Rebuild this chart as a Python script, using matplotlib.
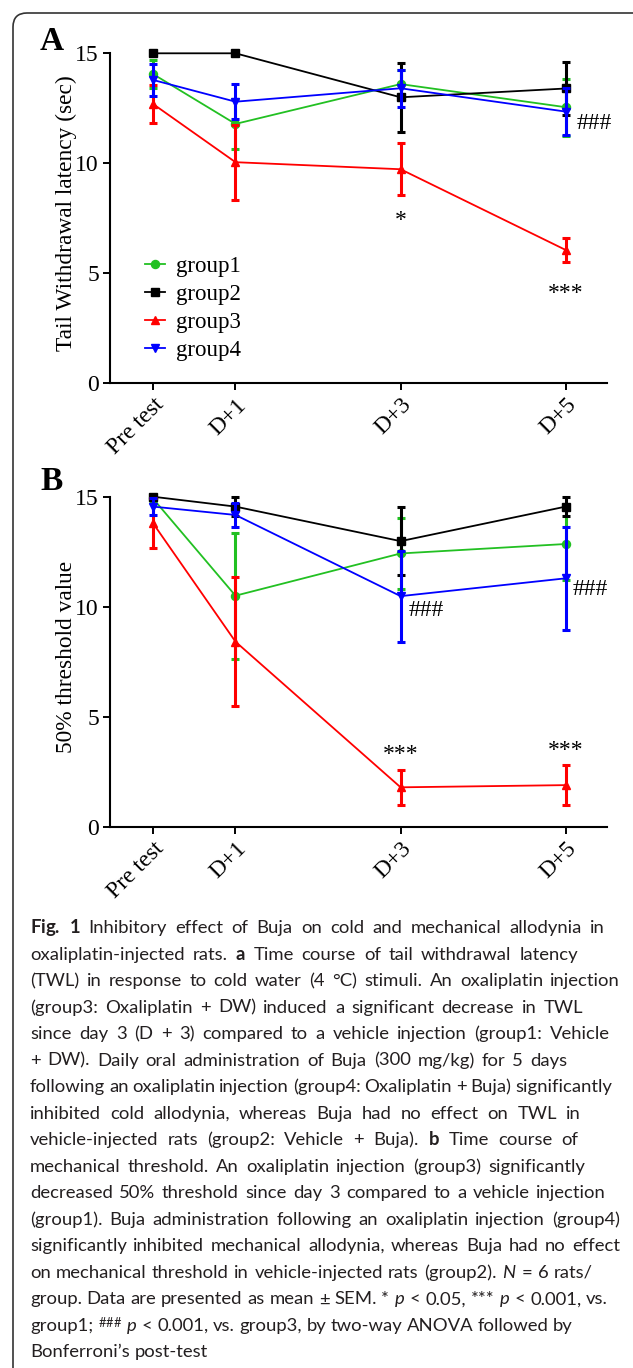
import matplotlib
matplotlib.use("Agg")
import matplotlib.pyplot as plt
from matplotlib.lines import Line2D
from matplotlib.patches import FancyBboxPatch
from matplotlib.transforms import IdentityTransform

# x positions are days after injection
days = [0, 1, 3, 5]
day_labels = ["Pre test", "D+1", "D+3", "D+5"]
groups = ["group1", "group2", "group3", "group4"]

# panel A: tail withdrawal latency (sec), mean and SEM per group
twl_mean = [
    [14.06, 11.79, 13.60, 12.55],
    [15.00, 15.00, 13.00, 13.40],
    [12.70, 10.05, 9.73, 6.06],
    [13.79, 12.80, 13.41, 12.35],
]
twl_sem = [
    [0.65, 1.15, 0.65, 1.30],
    [0.00, 0.00, 1.58, 1.20],
    [0.85, 1.70, 1.17, 0.53],
    [0.72, 0.80, 0.83, 1.05],
]

# panel B: 50% threshold value, mean and SEM per group
thr_mean = [
    [14.92, 10.50, 12.42, 12.85],
    [15.00, 14.55, 12.98, 14.55],
    [13.80, 8.41, 1.79, 1.89],
    [14.55, 14.17, 10.48, 11.29],
]
thr_sem = [
    [0.10, 2.86, 1.60, 1.65],
    [0.00, 0.42, 1.55, 0.42],
    [1.15, 2.93, 0.80, 0.90],
    [0.38, 0.55, 2.07, 2.33],
]

colors = ["#22c022", "black", "#ff0000", "#0000ff"]
markers = ["o", "s", "^", "v"]

caption_lines = [
    r"$\mathbf{Fig.}$ $\mathbf{1}$ Inhibitory effect of Buja on cold and mechanical allodynia in",
    r"oxaliplatin-injected rats. $\mathbf{a}$ Time course of tail withdrawal latency",
    "(TWL) in response to cold water (4 °C) stimuli. An oxaliplatin injection",
    "(group3: Oxaliplatin + DW) induced a significant decrease in TWL",
    "since day 3 (D + 3) compared to a vehicle injection (group1: Vehicle",
    "+ DW). Daily oral administration of Buja (300 mg/kg) for 5 days",
    "following an oxaliplatin injection (group4: Oxaliplatin + Buja) significantly",
    "inhibited cold allodynia, whereas Buja had no effect on TWL in",
    r"vehicle-injected rats (group2: Vehicle + Buja). $\mathbf{b}$ Time course of",
    "mechanical threshold. An oxaliplatin injection (group3) significantly",
    "decreased 50% threshold since day 3 compared to a vehicle injection",
    "(group1). Buja administration following an oxaliplatin injection (group4)",
    "significantly inhibited mechanical allodynia, whereas Buja had no effect",
    r"on mechanical threshold in vehicle-injected rats (group2). $\mathit{N}$ = 6 rats/",
    r"group. Data are presented as mean ± SEM. * $\mathit{p}$ < 0.05, *** $\mathit{p}$ < 0.001, vs.",
    r"group1; $^{\#\#\#}$ $\mathit{p}$ < 0.001, vs. group3, by two-way ANOVA followed by",
    "Bonferroni’s post-test",
]
# right end (px) of each caption line in the page layout
caption_ends = [605, 578, 620, 583, 610, 567, 612, 601, 589, 585,
                606, 620, 620, 593, 608, 573, None]

cap_font = "Lato"
serif = "Liberation Serif"

plt.rcParams["font.family"] = serif
plt.rcParams["mathtext.fontset"] = "custom"
plt.rcParams["mathtext.rm"] = cap_font
plt.rcParams["mathtext.it"] = cap_font + ":italic"
plt.rcParams["mathtext.bf"] = cap_font + ":bold"

W, H = 633, 1368
fig = plt.figure(figsize=(W / 100, H / 100), dpi=100)


def frac_box(left, top, right, bottom):
    # pixel box (from top-left) -> figure fraction rect
    return [left / W, 1 - bottom / H, (right - left) / W, (bottom - top) / H]


def draw_panel(ax, means, sems, ylabel):
    for i, name in enumerate(groups):
        ax.errorbar(days, means[i], yerr=sems[i], color=colors[i], marker=markers[i],
                    markersize=5.8, linewidth=1.3, elinewidth=2.2, capsize=3,
                    capthick=2.2, clip_on=False, zorder=3 + i)
    ax.set_xlim(-0.52, 5.5)
    ax.set_ylim(0, 15)
    ax.set_yticks([0, 5, 10, 15])
    ax.set_xticks(days)
    ax.set_xticklabels(day_labels, rotation=45, ha="right", rotation_mode="anchor")
    ax.tick_params(labelsize=17, length=5, width=1.4, direction="out", pad=3)
    for s in ["top", "right"]:
        ax.spines[s].set_visible(False)
    for s in ["left", "bottom"]:
        ax.spines[s].set_linewidth(1.5)
    ax.set_ylabel(ylabel, fontsize=16.8)
    ax.yaxis.set_label_coords(-0.066, 0.515)


axA = fig.add_axes(frac_box(110, 53.3, 607, 383.3))
draw_panel(axA, twl_mean, twl_sem, "Tail Withdrawal latency (sec)")
axA.text(3, 7.4, "*", ha="center", va="center", fontsize=17)
axA.text(5, 4.1, "***", ha="center", va="center", fontsize=17)
axA.text(5.35, 11.8, "###", ha="center", va="center", fontsize=17)

handles = [Line2D([], [], color=colors[i], marker=markers[i], markersize=5.8, linewidth=1.3)
           for i in range(len(groups))]
axA.legend(handles, groups, loc="upper left", bbox_to_anchor=(-0.24, 6.3),
           bbox_transform=axA.transData, frameon=False, fontsize=16.5,
           handlelength=0.9, handletextpad=0.45, labelspacing=0.3, borderpad=0)

axB = fig.add_axes(frac_box(110, 496.7, 607, 826.7))
draw_panel(axB, thr_mean, thr_sem, "50% threshold value")
axB.text(3, 3.3, "***", ha="center", va="center", fontsize=17)
axB.text(5, 3.45, "***", ha="center", va="center", fontsize=17)
axB.text(3.31, 9.85, "###", ha="center", va="center", fontsize=17)
axB.text(5.3, 10.76, "###", ha="center", va="center", fontsize=17)

fig.text(52 / W, 1 - 42 / H, "A", fontsize=24, fontweight="bold", ha="center", va="center")
fig.text(52 / W, 1 - 482 / H, "B", fontsize=24, fontweight="bold", ha="center", va="center")

# caption: one text per word; size set so the widest line fits the column,
# then word gaps nudged (within limits) toward the printed line ends
x0 = 30
base = 14
r = fig.canvas.get_renderer()
rows = []
for i, line in enumerate(caption_lines):
    y = 933.3 + 26.5 * i
    words = [fig.text(x0 / W, 1 - y / H, w, fontsize=base, family=cap_font,
                      color="#231f20", ha="left", va="baseline")
             for w in line.split(" ")]
    rows.append(words)

gap0 = 0.26 * base * 100 / 72
natural = [sum(t.get_window_extent(r).width for t in row) + gap0 * (len(row) - 1)
           for row in rows]
scale = 591 / max(natural)
fs = base * scale
gap_nat = gap0 * scale
for i, row in enumerate(rows):
    for t in row:
        t.set_fontsize(fs)
    widths = [t.get_window_extent(r).width for t in row]
    gap = gap_nat
    if caption_ends[i] and len(row) > 1:
        gap = (caption_ends[i] - x0 - sum(widths)) / (len(row) - 1)
        gap = min(max(gap, 0.75 * gap_nat), 1.9 * gap_nat)
    x = x0
    for t, w in zip(row, widths):
        t.set_x(x / W)
        x += w + gap

# rounded frame around the figure, open to the right and bottom
frame = FancyBboxPatch((13, -30), 700, H - 13 + 30,
                       boxstyle="round,pad=0,rounding_size=14",
                       transform=IdentityTransform(), fill=False,
                       edgecolor="#333333", linewidth=1.2)
fig.patches.append(frame)

fig.savefig("out.png", dpi=100)
